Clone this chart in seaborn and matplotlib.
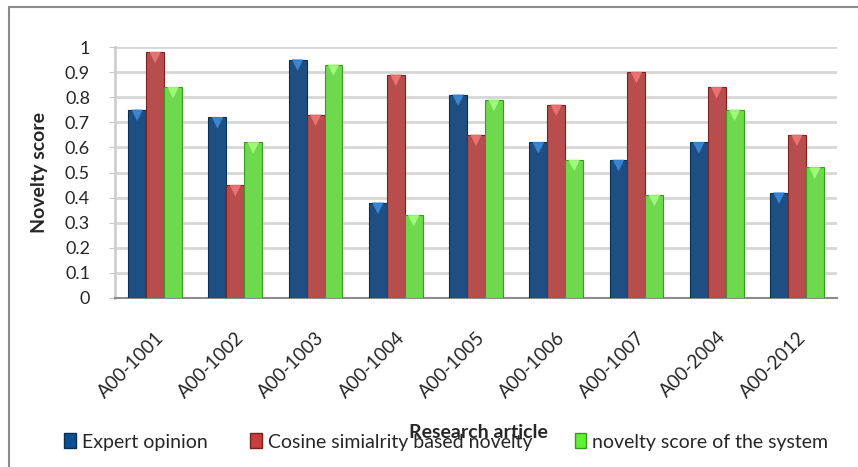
import matplotlib
matplotlib.use("Agg")
import matplotlib.pyplot as plt
from matplotlib.patches import Rectangle, Patch
import seaborn as sns
import pandas as pd
import numpy as np

articles = ["A00-1001", "A00-1002", "A00-1003", "A00-1004", "A00-1005",
            "A00-1006", "A00-1007", "A00-2004", "A00-2012"]
expert_opinion = [0.75, 0.72, 0.95, 0.38, 0.81, 0.62, 0.55, 0.62, 0.42]
cosine_novelty = [0.98, 0.45, 0.73, 0.89, 0.65, 0.77, 0.90, 0.84, 0.65]
system_novelty = [0.84, 0.62, 0.93, 0.33, 0.79, 0.55, 0.41, 0.75, 0.52]
series_names = ["Expert opinion", "Cosine simialrity based novelty",
                "novelty score of the system"]
y_ticks = [0, 0.1, 0.2, 0.3, 0.4, 0.5, 0.6, 0.7, 0.8, 0.9, 1]
y_tick_labels = ["0", "0.1", "0.2", "0.3", "0.4", "0.5", "0.6", "0.7", "0.8", "0.9", "1"]

colors = ["#0e4e92", "#c93d3b", "#62f036"]
edge_colors = ["#06305c", "#7e2020", "#3a9a1e"]
tip_colors = ["#3f8fe0", "#f07a78", "#a8ff86"]

df = pd.DataFrame({
    "article": articles * 3,
    "series": [series_names[0]] * 9 + [series_names[1]] * 9 + [series_names[2]] * 9,
    "score": expert_opinion + cosine_novelty + system_novelty,
})

sns.set_style("white")
plt.rcParams["font.family"] = ["Lato", "DejaVu Sans"]

fig = plt.figure(figsize=(8.58, 4.67), dpi=100)
ax = fig.add_axes([115 / 858, 1 - 298 / 467, (837 - 115) / 858, (298 - 47) / 467])

sns.barplot(data=df, x="article", y="score", hue="series", hue_order=series_names,
            palette=colors, width=0.67, gap=0, errorbar=None, ax=ax,
            legend=False, zorder=3, linewidth=0.8)

# dark outline on each bar plus a lighter bevel wedge at the top
for container, ec, tc in zip(ax.containers, edge_colors, tip_colors):
    for bar in container:
        bar.set_edgecolor(ec)
        bar.set_linewidth(0.8)
    xs = [b.get_x() + b.get_width() / 2 for b in container]
    ys = [b.get_height() for b in container]
    ax.scatter(xs, np.array(ys) - 0.022, marker="v", s=70, color=tc,
               edgecolor="none", zorder=4, alpha=0.85)

ax.set_ylim(0, 1)
ax.set_xlim(-0.5, len(articles) - 0.5)
ax.set_yticks(y_ticks)
ax.set_yticklabels(y_tick_labels, fontsize=13)
ax.yaxis.grid(True, color="#d6d6d6", linewidth=2, zorder=0)
ax.set_axisbelow(True)
ax.set_xticks(range(len(articles)))
ax.set_xticklabels(articles, rotation=45, ha="right", rotation_mode="anchor",
                   fontsize=13.5)
ax.tick_params(axis="x", length=0, pad=22)
ax.tick_params(axis="y", length=4, color="#c8c8c8", pad=14, left=True)

for side in ["top", "right"]:
    ax.spines[side].set_visible(False)
ax.spines["left"].set_color("#cfcfcf")
ax.spines["left"].set_linewidth(2)
ax.spines["bottom"].set_color("#8c8c8c")
ax.spines["bottom"].set_linewidth(1.5)

ax.set_ylabel("Novelty score", fontsize=14, fontweight="bold", labelpad=12)
ax.set_xlabel("")
fig.text(478 / 858, 1 - 433 / 467, "Research article", fontsize=14,
         fontweight="bold", ha="center", va="center")

handles = [Patch(facecolor=c, edgecolor=e) for c, e in zip(colors, edge_colors)]
fig.legend(handles, series_names, loc="center", bbox_to_anchor=(0.52, 1 - 442 / 467),
           ncol=3, frameon=False, fontsize=14, handlelength=0.6, handleheight=0.8,
           handletextpad=0.3, columnspacing=2.2)

# chart frame (open on the right and bottom edges)
fig.patches.append(Rectangle((9 / 858, -0.1), 1.2, 1 - 7 / 467 + 0.1,
                             transform=fig.transFigure, fill=False,
                             edgecolor="#8a8a8a", linewidth=1.5))

fig.savefig("out.png", dpi=100)
